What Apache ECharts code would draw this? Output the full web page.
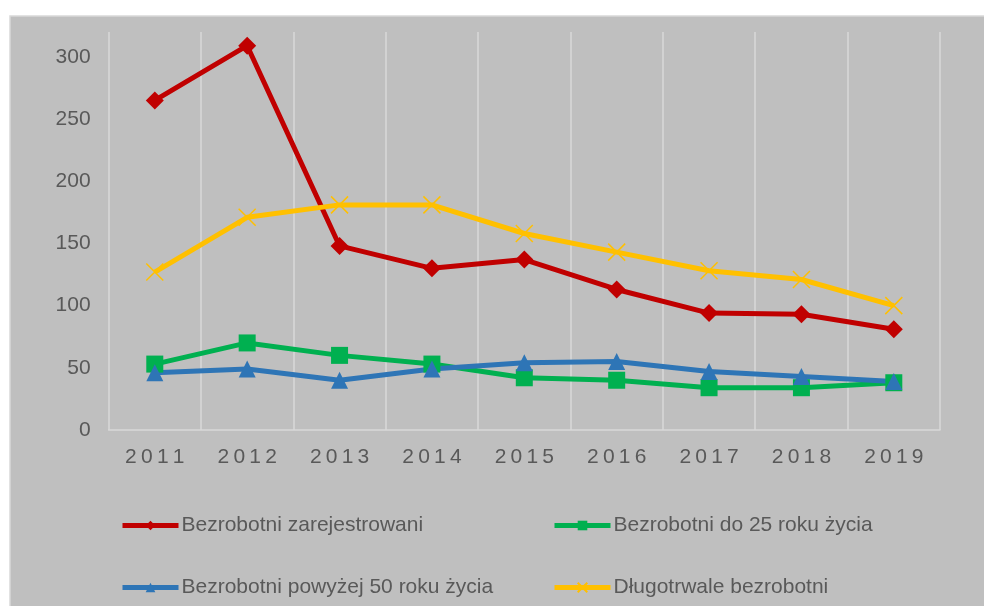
<!DOCTYPE html>
<html>
<head>
<meta charset="utf-8">
<script src="https://cdn.jsdelivr.net/npm/echarts@6/dist/echarts.min.js"></script>
<style>
html,body{margin:0;padding:0;background:#fff;}
#c{width:984px;height:606px;}
</style>
</head>
<body>
<div id="c"></div>
<script>
const years = ['2011','2012','2013','2014','2015','2016','2017','2018','2019'];
const zarejestrowani = [265, 309, 148, 130, 137, 113, 94, 93, 81];
const do25 = [53, 70, 60, 53, 42, 40, 34, 34, 38];
const powyzej50 = [46, 49, 40, 49, 54, 55, 47, 43, 39];
const dlugotrwale = [127, 171, 181, 181, 158, 143, 128, 121, 100];
const seriesNames = ['Bezrobotni zarejestrowani', 'Bezrobotni do 25 roku życia', 'Bezrobotni powyżej 50 roku życia', 'Długotrwale bezrobotni'];
const yTicks = [0, 50, 100, 150, 200, 250, 300];

const txt = '#595959';
const font = 'Liberation Sans, Arial, sans-serif';
const chart = echarts.init(document.getElementById('c'));

function legendAt(name, left, top) {
  return {
    data: [name], left: left, top: top, itemWidth: 56, itemHeight: 12, itemGap: 0,
    lineStyle: { width: 5 },
    textStyle: { color: txt, fontSize: 21, fontFamily: font, padding: [0, 0, 0, -2] }
  };
}

chart.setOption({
  backgroundColor: '#ffffff',
  animation: false,
  graphic: { elements: [{ type: 'rect', z: -100, shape: { x: 10, y: 16, width: 980, height: 600 },
    style: { fill: '#BFBFBF', stroke: '#D9D9D9', lineWidth: 1.5 } }] },
  grid: { left: 108.6, right: 44, top: 32, bottom: 176 },
  legend: [
    legendAt(seriesNames[0], 115, 510),
    legendAt(seriesNames[1], 547, 510),
    legendAt(seriesNames[2], 115, 572),
    legendAt(seriesNames[3], 547, 572)
  ],
  xAxis: {
    type: 'category', data: years, boundaryGap: true,
    axisLine: { lineStyle: { color: '#D9D9D9', width: 1.5 } },
    axisTick: { show: false },
    splitLine: { show: true, lineStyle: { color: '#D9D9D9', width: 1.5 } },
    axisLabel: { color: txt, fontSize: 21, fontFamily: font, margin: 17,
      formatter: v => v.split('').join('\u2009') }
  },
  yAxis: {
    type: 'value', min: 0, max: 320, interval: 50,
    axisLine: { show: false }, axisTick: { show: false }, splitLine: { show: false },
    axisLabel: { color: txt, fontSize: 21, fontFamily: font, margin: 18,
      showMaxLabel: false,
      formatter: v => yTicks.indexOf(v) >= 0 ? String(v) : '' }
  },
  series: [
    { name: seriesNames[0], type: 'line', data: zarejestrowani, symbol: 'diamond', symbolSize: 18,
      lineStyle: { color: '#C00000', width: 5 }, itemStyle: { color: '#C00000' } },
    { name: seriesNames[1], type: 'line', data: do25, symbol: 'rect', symbolSize: 17,
      lineStyle: { color: '#00B050', width: 5 }, itemStyle: { color: '#00B050' } },
    { name: seriesNames[2], type: 'line', data: powyzej50, symbol: 'triangle', symbolSize: 17,
      lineStyle: { color: '#2E75B6', width: 5 }, itemStyle: { color: '#2E75B6' } },
    { name: seriesNames[3], type: 'line', data: dlugotrwale, symbol: 'path://M0,0L10,10M10,0L0,10', symbolSize: 17,
      lineStyle: { color: '#FFC000', width: 5 },
      itemStyle: { color: '#FFC000', borderColor: '#FFC000', borderWidth: 1.5 } }
  ]
});
</script>
</body>
</html>
